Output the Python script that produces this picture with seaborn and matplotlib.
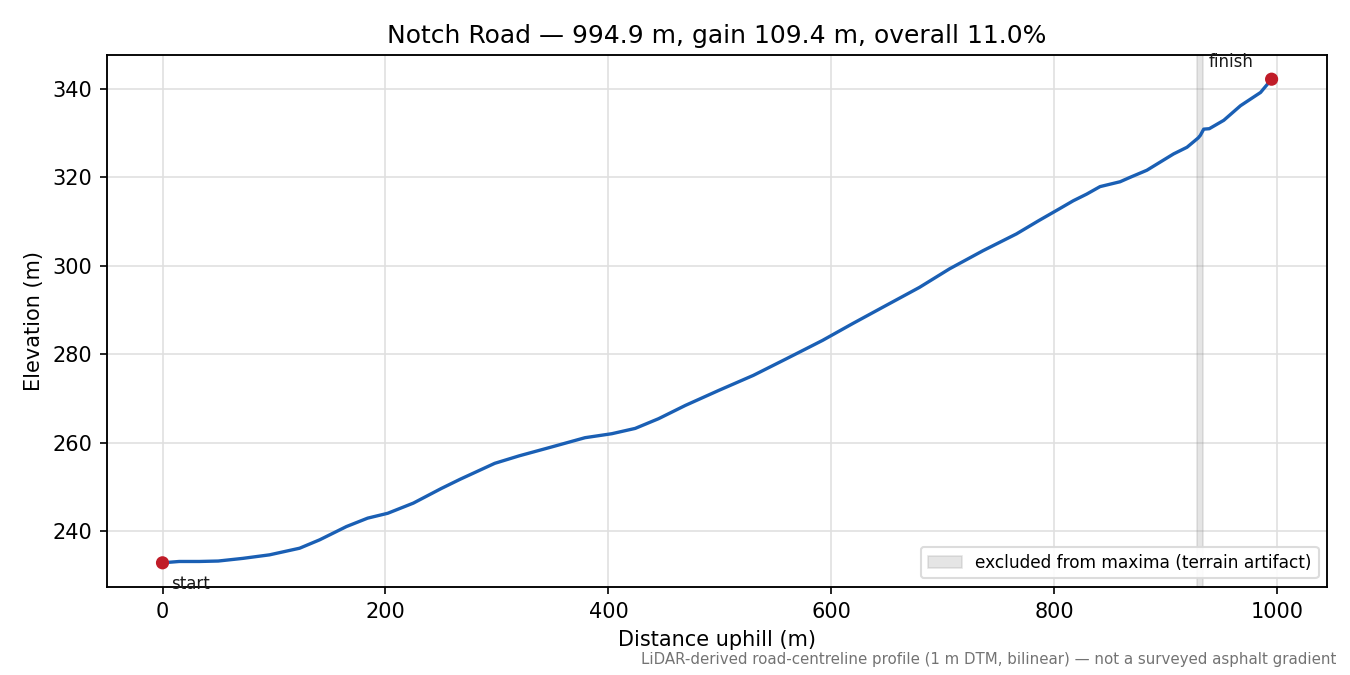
import matplotlib
matplotlib.use("Agg")
import matplotlib.pyplot as plt
import seaborn as sns
import pandas as pd

# --- data ---
distance_m = [0, 15, 33, 50, 72, 96, 123, 141, 165, 184, 202, 225, 250, 267, 298,
              320, 349, 379, 403, 424, 445, 469, 499, 530, 560, 592, 619, 646, 679,
              706, 736, 766, 786, 804, 817, 829, 841, 859, 868, 883, 907, 919, 929,
              931, 934, 939, 952, 967, 985, 994.9]
elevation_m = [232.8, 233.1, 233.1, 233.2, 233.8, 234.6, 236.1, 238.0, 241.0, 242.9,
               244.0, 246.3, 249.6, 251.7, 255.3, 257.0, 259.0, 261.1, 262.0, 263.2,
               265.4, 268.4, 271.8, 275.2, 279.0, 283.1, 286.9, 290.6, 295.1, 299.3,
               303.4, 307.2, 310.2, 312.8, 314.7, 316.2, 317.9, 319.0, 320.0, 321.6,
               325.3, 326.8, 328.9, 329.5, 330.9, 331.0, 332.9, 336.2, 339.2, 342.2]
excluded_span = [928, 933]
end_labels = ["start", "finish"]
title = "Notch Road \u2014 994.9 m, gain 109.4 m, overall 11.0%"
footnote = ("LiDAR-derived road-centreline profile (1 m DTM, bilinear) \u2014 "
            "not a surveyed asphalt gradient")

sns.set_style("ticks")
plt.rcParams["font.family"] = ["DejaVu Sans"]
plt.rcParams["text.color"] = "black"
plt.rcParams["axes.labelcolor"] = "black"
plt.rcParams["xtick.color"] = "black"
plt.rcParams["ytick.color"] = "black"

df = pd.DataFrame({"distance": distance_m, "elevation": elevation_m})
ends = df.iloc[[0, -1]].copy()
ends["label"] = end_labels

fig, ax = plt.subplots(figsize=(9, 4.5), dpi=150)
fig.subplots_adjust(left=0.0793, right=0.983, top=0.9185, bottom=0.1304)

ax.grid(True, color="0.88", linewidth=0.8)
ax.set_axisbelow(True)

ax.axvspan(excluded_span[0], excluded_span[1], facecolor="0.55", edgecolor="0.55",
           alpha=0.22, linewidth=0.8, label="excluded from maxima (terrain artifact)")

sns.lineplot(data=df, x="distance", y="elevation", ax=ax, color="#1a5fb4",
             linewidth=1.6, sort=False, estimator=None, legend=False)
sns.scatterplot(data=ends, x="distance", y="elevation", ax=ax, color="#c01c28",
                s=40, edgecolor="none", zorder=5, legend=False)

ax.annotate(end_labels[0], (ends["distance"].iloc[0], ends["elevation"].iloc[0]),
            xytext=(4, -6), textcoords="offset points", ha="left", va="top",
            fontsize=8, color="0.1")
ax.annotate(end_labels[1], (ends["distance"].iloc[1], ends["elevation"].iloc[1]),
            xytext=(-30, 4), textcoords="offset points", ha="left", va="bottom",
            fontsize=8, color="0.1")

for s in ax.spines.values():
    s.set_color("black")
    s.set_linewidth(0.9)

ax.set_xlabel("Distance uphill (m)", fontsize=10)
ax.set_ylabel("Elevation (m)", fontsize=10)
ax.set_title(title, fontsize=12)
ax.tick_params(labelsize=10, colors="black")
ax.margins(x=0.05, y=0.05)
ax.legend(loc="lower right", fontsize=8.15, frameon=True, framealpha=0.9,
          edgecolor="0.85")

fig.text(0.9896, 0.012, footnote, ha="right", va="bottom", fontsize=7.2, color="0.45")

fig.savefig("out.png", dpi=150)
